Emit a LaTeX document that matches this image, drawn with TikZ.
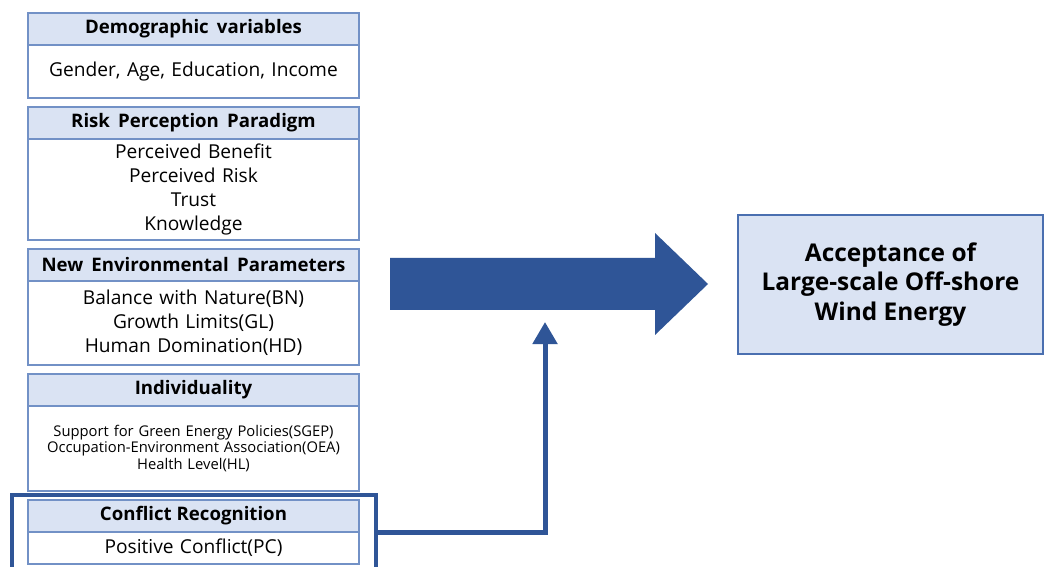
\documentclass[tikz,border=0pt]{standalone}
\usepackage{fontspec}
\setmainfont[WordSpace=1.7]{Open Sans}
\newfontfamily\tightfont{Open Sans}
\usepackage{tikz}
\usetikzlibrary{calc}
\usetikzlibrary{positioning}
\usetikzlibrary{arrows.meta}

\definecolor{headfill}{HTML}{DAE3F3}
\definecolor{boxline}{HTML}{7291C6}
\definecolor{navy}{HTML}{2F5597}
\definecolor{targetline}{HTML}{4A6FB0}

\begin{document}
\begin{tikzpicture}[x=0.2mm, y=-0.2mm,
    headbox/.style={rectangle, draw=boxline, fill=headfill, line width=0.35mm,
        minimum width=66.2mm, minimum height=6.4mm, inner sep=0pt, outer sep=0pt,
        font=\bfseries\fontsize{10.6}{12}\selectfont},
    bodybox/.style={rectangle, draw=boxline, fill=white, line width=0.35mm,
        minimum width=66.2mm, text width=64mm, align=center, inner sep=0pt, outer sep=0pt,
        font=\fontsize{10.9}{13.6}\selectfont},
    link/.style={draw=navy, line width=1mm, -{Triangle[width=4.8mm, length=4.4mm]}}]
    \clip (0,0) rectangle (1044,567);
    \fill[white] (0,0) rectangle (1044,567);

    % left column of factor boxes
    \node[headbox, anchor=north west] (dem) at (28,13) {Demographic variables};
    \node[bodybox, minimum height=10.6mm, below=0pt of dem] (demb) {Gender, Age, Education, Income};

    \node[headbox, below=1.8mm of demb] (risk) {Risk Perception Paradigm};
    \node[bodybox, minimum height=20.2mm, below=0pt of risk] (riskb)
        {Perceived Benefit\\Perceived Risk\\Trust\\Knowledge};

    \node[headbox, below=1.8mm of riskb] (nep) {New Environmental Parameters};
    \node[bodybox, minimum height=16.8mm, below=0pt of nep] (nepb)
        {Balance with Nature(BN)\\Growth Limits(GL)\\Human Domination(HD)};

    \node[headbox, below=1.8mm of nepb, font=\tightfont\bfseries\fontsize{10.6}{12}\selectfont] (ind) {Individuality};
    \node[bodybox, minimum height=17mm, below=0pt of ind, font=\tightfont\fontsize{8.4}{9.4}\selectfont] (indb)
        {Support for Green Energy Policies(SGEP)\\Occupation-Environment Association(OEA)\\Health Level(HL)};

    \node[headbox, below=1.8mm of indb, font=\tightfont\bfseries\fontsize{10.6}{12}\selectfont] (cr) {Conflict Recognition};
    \node[bodybox, minimum height=6.4mm, below=0pt of cr] (crb) {Positive Conflict(PC)};

    % highlight frame
    \node[draw=navy, line width=0.8mm, anchor=north west, minimum width=72.8mm,
        minimum height=22mm, inner sep=0pt, outer sep=0pt] (crframe) at (12,495) {};

    % big arrow
    \fill[navy] (390,258) -- (655,258) -- (655,233) -- (708,284)
        -- (655,335) -- (655,310) -- (390,310) -- cycle;

    % outcome
    \node[rectangle, draw=targetline, fill=headfill, line width=0.35mm, anchor=north west,
        minimum width=61mm, minimum height=27.8mm, align=center, outer sep=0pt,
        font=\tightfont\bfseries\fontsize{13.9}{17}\selectfont] (accept) at (738,215)
        {Acceptance of\\Large-scale Off-shore\\Wind Energy};

    \coordinate (pctip) at (545,322);
    \draw[link] (cr.south -| crframe.east) -| (pctip);
\end{tikzpicture}
\end{document}
